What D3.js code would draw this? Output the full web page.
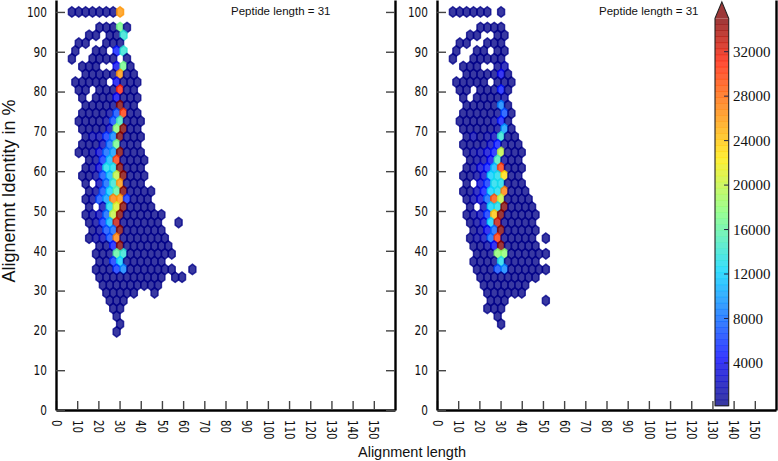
<!DOCTYPE html>
<html><head><meta charset="utf-8">
<script src="https://cdn.jsdelivr.net/npm/d3@7"></script>
<style>
html,body{margin:0;padding:0;background:#fff}
svg{display:block}
</style></head><body>
<div id="chart"></div>
<script>
// Counts in thousands for each hexagon: one inner list per row (top row first), one entry per column, 0 = empty
const leftCounts = [
[.3,.3,.3,.3,.3,.3,.3,26],
[],
[0,0,0,0,.3,.3,.3,17,.3],
[0,0,.3,.3,0,.3,.3,14],
[0,.3,.3,0,0,.3,.3,.3],
[.3,0,0,.3,.3,0,5,14],
[.3,0,0,.3,.3,.3,.3,0,.3],
[0,.3,.3,.3,0,0,4,17,.3],
[0,0,.3,.3,.3,.3,.3,26,.3,.3],
[.3,.3,.3,.3,.3,0,4,.3,.3,.3],
[0,.3,.3,0,.3,.3,.3,31,.3,.3],
[0,.3,0,.3,.3,.3,4,.3,.3,.3],
[0,0,.3,.3,.3,.3,.5,35,.3,.3],
[0,.3,.3,.3,.3,1,7,30,.3,.3],
[0,.3,.3,.3,.3,1,7,15,.3,.3,.3],
[0,.3,.3,.3,.3,2,18,35,.3,.3],
[0,0,.3,1.5,1.5,6,9,35,.3,.3,.3],
[0,.3,.3,.3,2,8,17,.5,.3,.3],
[0,.3,.3,1,3,8,10,35,.3,.3,.3],
[0,0,.3,1,6,11,30,.5,.3,.3,.3],
[0,0,.3,1,3,13,13,35,.3,.3,.3],
[0,.3,.3,1,7,11,20,35,.3,.3,.3],
[0,0,.3,0,2,8,14,26,.3,.3,.3],
[0,0,.3,1,7,12,16,35,.3,.3,.3,.3],
[0,0,.3,1,7,10,27,26,6,.3,.3,.3],
[0,0,.3,0,2,13,21,35,.3,.3,.3,.3],
[0,0,.3,1,2,8,20,35,.3,.3,.3,.3,.3,.3],
[0,0,.3,1,6,11,33,.5,.3,.3,.3,.3,.3,0,0,.3],
[0,0,0,.3,1,7,8,35,.3,.3,.3,.3,.3,.3],
[0,0,.3,1,2,7,27,.5,.3,.3,.3,.3,.3,.3],
[0,0,0,0,.3,.3,5,35,.3,.3,.3,.3,.3,.3,.3],
[0,0,0,.3,.3,.5,16,14,.3,.3,.3,.3,.3,.3,.3],
[0,0,0,0,.3,.3,6,12,.3,.3,.3,.3,.3,.3],
[0,0,0,.3,.3,.3,6,9,.3,.3,.3,.3,.3,.3,.3,0,0,.3],
[0,0,0,0,.3,.3,.3,.3,.3,.3,.3,.3,.3,.3,0,.3,.3],
[0,0,0,0,.3,.3,.3,.3,.3,.3,.3,.3,.3],
[0,0,0,0,0,.3,.3,.3,.3,.3,0,0,.3],
[0,0,0,0,0,.3,.3,.3],
[0,0,0,0,0,0,.3,.3],
[0,0,0,0,0,0,.3],
[0,0,0,0,0,0,0,.3],
[0,0,0,0,0,0,.3]
];
const rightCounts = [
[.3,.3,.3,.3,.3,.3,0,.3],
[],
[0,0,0,0,.3,.3,.3,.3],
[0,0,.3,.3,0,0,.3,.3],
[0,.3,.3,0,0,.3,.3,.3],
[.3,0,0,.3,.3,0,.3,.3],
[.3,0,0,.3,.3,.3,.3,.3],
[0,.3,.3,.3,0,0,.5,1.5],
[0,0,.3,.3,.3,.3,.3,4,.3],
[.3,.3,.3,.3,.3,0,.3,.3,.3],
[0,.3,.3,0,.3,.3,.3,5,.3],
[0,.3,0,.3,.3,.3,.3,1],
[0,0,.3,.3,.3,.3,.3,9,.3],
[0,.3,.3,.3,.3,.3,.5,7,.3],
[0,.3,.3,.3,.3,.3,1,5,.3],
[0,.3,.3,.3,.3,.3,1,10,.3],
[0,0,.3,1.5,.3,1,2,14,.3,.3],
[0,.3,.3,.3,.5,2,5,.5,.3,.3],
[0,0,.3,1,1.5,3,5,20,.3,.3,.3],
[0,0,.3,1,1.5,4,15,1,.3,.3],
[0,0,.3,1,3,5,11,30,.3,.3,.3],
[0,.3,.3,1,3,12,13,23,.3,.3],
[0,0,.3,0,3,6,13,13,.3,.3,.3],
[0,.3,.3,2,5,12,13,27,.3,.3,.3],
[0,0,.3,1.5,3,8,29,20,.3,.3,.3,.3],
[0,0,.3,0,2,12,13,35,.3,.3,.3,.3],
[0,0,.3,1,2,6,24,35,.3,.3,.3,.3,.3],
[0,0,.3,1,3,12,33,.5,.3,.3,.3,.3],
[0,0,0,.3,1,4,8,35,.3,.3,.3,.3,.3],
[0,0,.3,1,2,8,30,.5,.3,.3,.3,.3,0,.3],
[0,0,0,.3,.3,1,4,35,.3,.3,.3,.3,.3],
[0,0,0,.3,.3,.5,18,18,.3,.3,.3,.3,.3,.3],
[0,0,0,.3,.3,.3,.5,13,.3,.3,.3,.3,.3],
[0,0,0,.3,.3,.3,7,9,.3,.3,.3,.3,.3,.3],
[0,0,0,0,.3,.3,.3,.3,.3,.3,.3,.3,.3],
[0,0,0,0,.3,.3,.3,.3,.3,.3,.3],
[0,0,0,0,0,.3,.3,.3,.3,.3,.3],
[0,0,0,0,0,.3,.3,.3,0,0,0,0,0,.3],
[0,0,0,0,0,.3,.3,.3],
[0,0,0,0,0,0,.3],
[0,0,0,0,0,0,0,.3]
];
const xTicks = [0,10,20,30,40,50,60,70,80,90,100,110,120,130,140,150];
const yTicks = [0,10,20,30,40,50,60,70,80,90,100];
const barTicks = [4000,8000,12000,16000,20000,24000,28000,32000];
const panelNote = "Peptide length = 31";
const xTitle = "Alignment length";
const yTitle = "Alignemnt Identity in %";

// Hex lattice in data units
const firstLength = 7.5, lengthStep = 3.25, firstIdentity = 100, identityStep = 1.96;
const countMax = 35000;

const W = 778, H = 461;
const svg = d3.select("#chart").append("svg").attr("width",W).attr("height",H);

const jet = d3.scaleLinear()
  .domain([0,.11,.125,.35,.5,.64,.89,1].map(d=>d*countMax))
  .range(["#000080","#0000e6","#0000ff","#00d4ff","#7cff79","#ffea00","#ff1a00","#800000"])
  .clamp(true);

const yScale = d3.scaleLinear([0,103],[410,0]);
const alpha = 0.78;
const tickFont = "'DejaVu Sans'";

function panel(counts, x0, x1, opts){
  const xScale = d3.scaleLinear([0,160],[x0,x1]);
  const g = svg.append("g");
  const cells = counts.flatMap((row,r)=>row.map((v,k)=>({
    value:v*1000,
    len:firstLength+lengthStep*(k+(r%2?0.5:0)),
    ident:firstIdentity-identityStep*r
  }))).filter(d=>d.value>0);
  const hw = lengthStep/2, hh = identityStep*2/3;
  const line = d3.line().x(p=>xScale(p[0])).y(p=>yScale(p[1])).curve(d3.curveLinearClosed);
  g.selectAll("path.hex").data(cells).join("path").attr("class","hex")
    .attr("d",d=>line([[d.len,d.ident+hh],[d.len+hw,d.ident+hh/2],[d.len+hw,d.ident-hh/2],[d.len,d.ident-hh],[d.len-hw,d.ident-hh/2],[d.len-hw,d.ident+hh/2]]))
    .attr("fill",d=>jet(d.value)).attr("stroke",d=>jet(d.value))
    .attr("fill-opacity",alpha).attr("stroke-opacity",alpha).attr("stroke-width",1.5);

  const styleAxis = a=>{
    a.select(".domain").attr("stroke","#000").attr("stroke-width",2.4);
    a.selectAll(".tick line").attr("stroke","#444").attr("stroke-width",1.4);
    a.selectAll("text").attr("fill","#111").style("font-family",tickFont).style("font-size","13.5px");
  };
  const ax = g.append("g").attr("transform",`translate(0,${yScale(0)})`)
    .call(d3.axisBottom(xScale).tickValues(xTicks).tickSize(-9).tickSizeOuter(0).tickFormat(d3.format("d")))
    .call(styleAxis);
  ax.selectAll("text").attr("x",0).attr("y",0).attr("dy",".36em").attr("text-anchor","start")
    .attr("transform","translate(0,10) rotate(90) scale(.76,1)");
  const ay = g.append("g").attr("transform",`translate(${x0},0)`)
    .call(d3.axisLeft(yScale).tickValues(yTicks).tickSize(-9).tickSizeOuter(0).tickFormat(d3.format("d")))
    .call(styleAxis);
  ay.selectAll("text").attr("x",0).attr("text-anchor","end")
    .attr("transform","translate(-9,0) scale(.78,1)");
  const ar = g.append("g").attr("transform",`translate(${x1},0)`)
    .call(d3.axisRight(yScale).tickValues(opts.rightTicks?yTicks:[]).tickSize(-9).tickSizeOuter(0).tickFormat(""))
    .call(styleAxis);
  g.append("text").text(panelNote).attr("x",opts.noteX).attr("y",15)
    .attr("font-family","'Liberation Sans'").attr("font-size",11.5).attr("fill","#111");
}
panel(leftCounts,56,395,{rightTicks:true,noteX:231});
panel(rightCounts,437,776,{rightTicks:false,noteX:599});

svg.append("text").text(xTitle).attr("x",412).attr("y",457).attr("text-anchor","middle")
  .attr("font-family","'Liberation Sans'").attr("font-size",14.5).attr("fill","#111");
svg.append("text").text(yTitle).attr("transform","translate(15,191) rotate(-90)").attr("text-anchor","middle")
  .attr("font-family","'Liberation Sans'").attr("font-size",18).attr("fill","#111");

// Colour bar
const barY = d3.scaleLinear([0,32000],[407.4,51.7]);
const barX = d3.scaleLinear([0,1],[715,728.7]);
const bandCount = 64;
const bands = d3.range(bandCount).map(i=>({lo:150+i*(countMax-150)/bandCount, hi:150+(i+1)*(countMax-150)/bandCount}));
const bar = svg.append("g");
bar.selectAll("rect").data(bands).join("rect")
  .attr("x",barX(0)).attr("width",barX(1)-barX(0))
  .attr("y",d=>barY(d.hi)).attr("height",d=>barY(d.lo)-barY(d.hi)+.5)
  .attr("fill",d=>jet((d.lo+d.hi)/2)).attr("fill-opacity",alpha);
const arrowTop = 36480;
const outline = d3.line().x(p=>barX(p[0])).y(p=>barY(p[1]));
bar.append("path").attr("d",outline([[0,countMax],[.5,arrowTop],[1,countMax]])+"Z")
  .attr("fill",jet(countMax)).attr("fill-opacity",alpha);
bar.append("path").attr("d",outline([[0,150],[0,countMax],[.5,arrowTop],[1,countMax],[1,150]])+"Z")
  .attr("fill","none").attr("stroke","#222").attr("stroke-width",1.1);
bar.selectAll("line.t").data(barTicks).join("line").attr("class","t")
  .attr("x1",barX(.66)).attr("x2",barX(1)).attr("y1",d=>barY(d)).attr("y2",d=>barY(d))
  .attr("stroke","#224").attr("stroke-width",1);
bar.selectAll("text").data(barTicks).join("text").text(d=>d)
  .attr("x",733).attr("y",d=>barY(d)).attr("dy",".34em")
  .attr("font-family","'Liberation Serif'").attr("font-size",15).attr("fill","#111");
</script>
</body></html>
